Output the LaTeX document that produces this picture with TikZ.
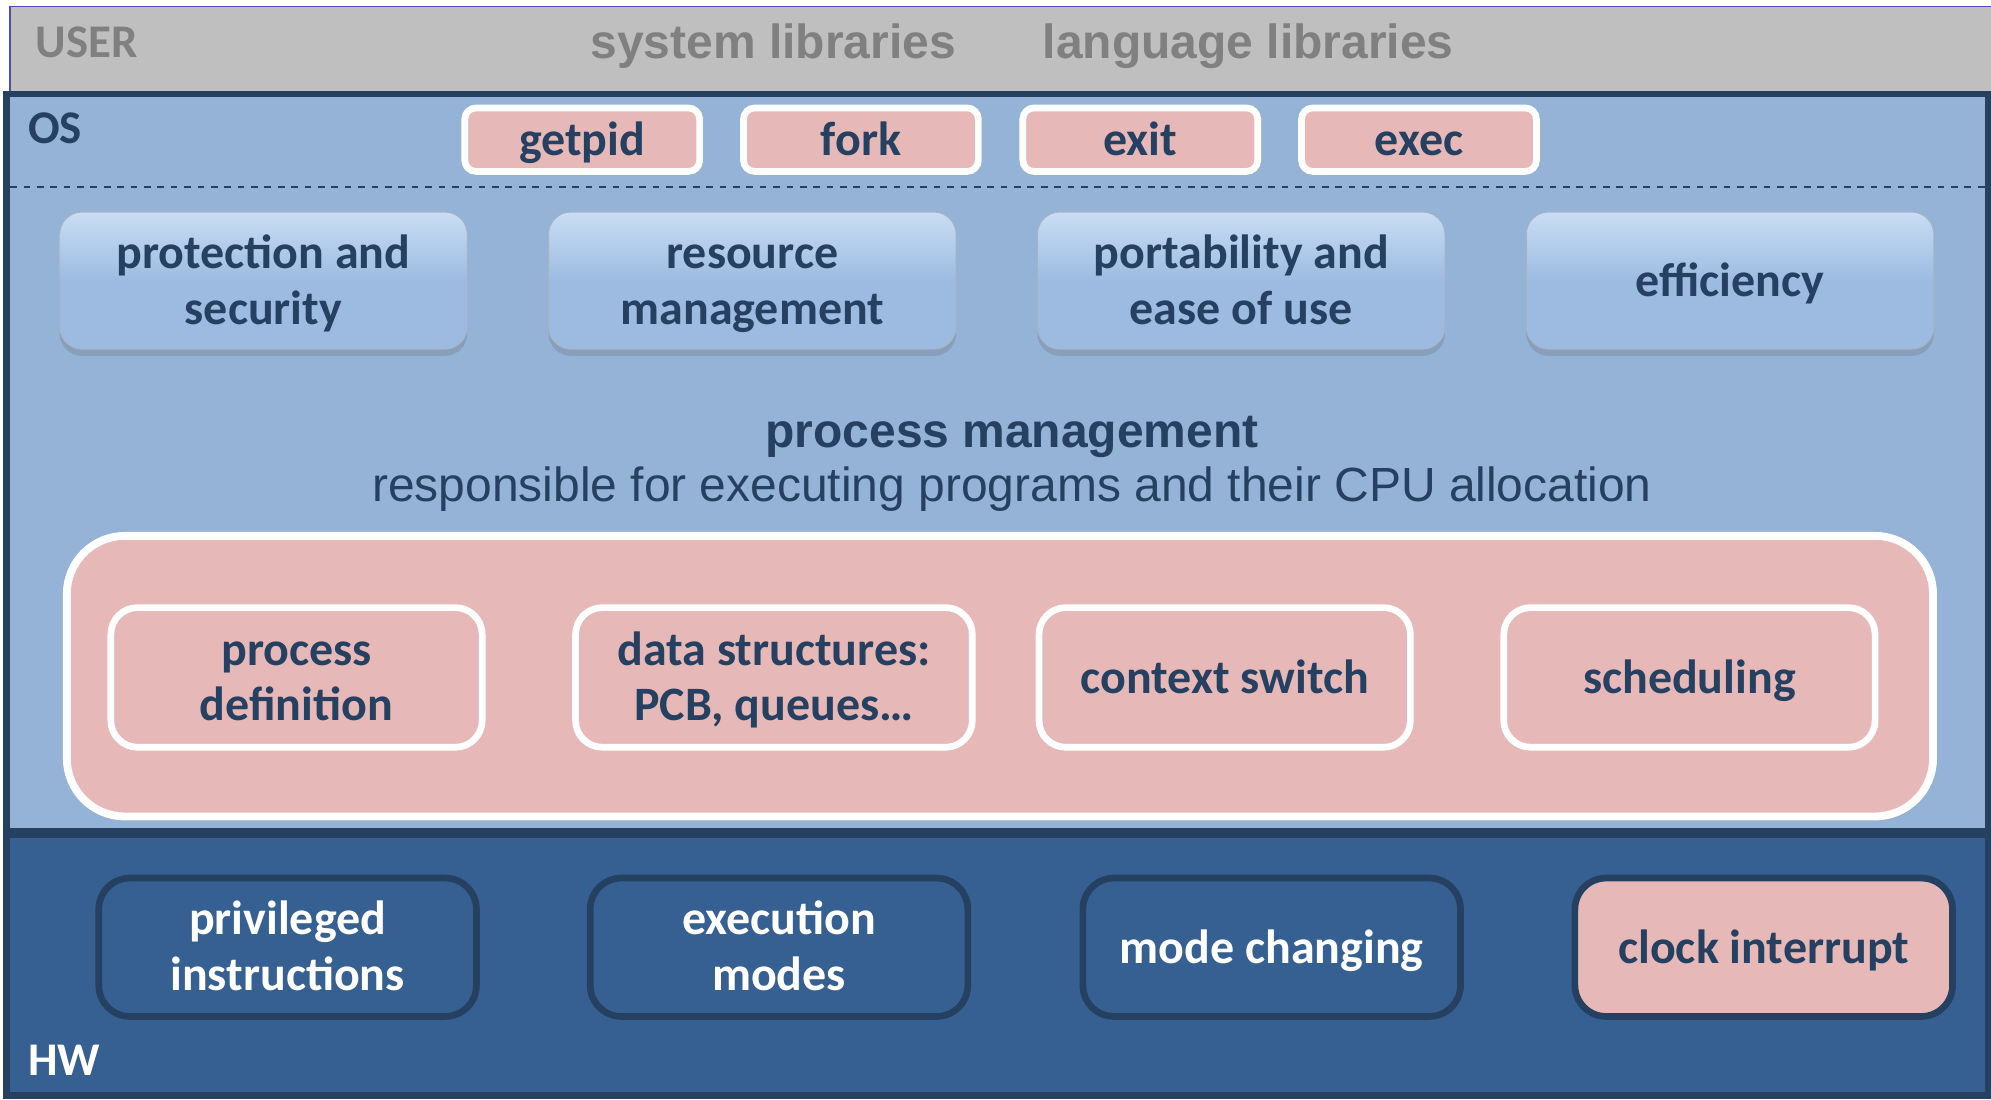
\documentclass[tikz,border=0pt]{standalone}
\usepackage{fontspec}
\setmainfont{Carlito}
\newfontfamily\arialfont{Liberation Sans}
\usepackage{tikz}
\usetikzlibrary{shapes,shadows,backgrounds}

\definecolor{usergray}{HTML}{BFBFBF}
\definecolor{usertext}{HTML}{808080}
\definecolor{osblue}{HTML}{95B3D7}
\definecolor{navy}{HTML}{254061}
\definecolor{hwblue}{HTML}{366092}
\definecolor{pinkfill}{HTML}{E6B9B8}
\definecolor{boxblue}{HTML}{9DBBE1}
\definecolor{boxtop}{HTML}{C9DDF4}

\begin{document}
\begin{tikzpicture}
[x=0.02cm,y=-0.02cm]
\tikzset{
	layer/.style = {draw = navy, line width = 3pt},
	oneline/.style = {text height = 18pt, text depth = 3.5pt},
	twoline/.style = {text height = 44pt, text depth = 5pt},
	syscall/.style = {rectangle, rounded corners = 5pt, draw = white, line width = 3pt, fill = pinkfill,
		minimum width = 3.7cm, minimum height = 1.0cm, oneline,
		text = navy, font = \bfseries\fontsize{21.5}{25}\selectfont},
	goal/.style = {rectangle, rounded corners = 10pt, draw = navy!40, line width = 0.4pt,
		top color = boxtop, bottom color = boxblue, middle color = boxblue, shading angle = 0,
		drop shadow = {shadow xshift = 0pt, shadow yshift = -3pt, fill = navy!60, opacity = 0.5},
		minimum width = 6.42cm, minimum height = 2.16cm, align = center, text = navy,
		font = \bfseries\fontsize{21.5}{25}\selectfont},
	procpart/.style = {rectangle, rounded corners = 12pt, draw = white, line width = 3pt, fill = pinkfill,
		minimum height = 2.2cm, align = center, text = navy, font = \bfseries\fontsize{21.5}{25}\selectfont},
	hwpart/.style = {rectangle, rounded corners = 14pt, draw = navy, line width = 3pt, fill = hwblue,
		minimum width = 5.95cm, minimum height = 2.18cm, align = center, text = white,
		font = \bfseries\fontsize{21.5}{25}\selectfont},
	tag/.style = {anchor = west, font = \bfseries\fontsize{21}{24}\selectfont}
}
\useasboundingbox (0,0) rectangle (1568,866);

\fill[usergray] (8,5) rectangle (1568,72);
\draw[blue!40!gray, line width = 0.6pt] (8,72) -- (8,5) -- (1568,5);
\node (user) [tag, text = usertext] at (22,33) {USER};
\node (syslib) [text = usertext, font = \arialfont\bfseries\fontsize{21.5}{24}\selectfont] at (609,36) {system libraries};
\node (langlib) [text = usertext, font = \arialfont\bfseries\fontsize{21.5}{24}\selectfont] at (983,36) {language libraries};

\filldraw[layer, fill = osblue] (5,74) rectangle (1566,655);
\node (os) [tag, text = navy] at (16,101) {OS};
\draw[navy, dashed, line width = 0.8pt] (8,147) -- (1564,147);

\node (getpid) [syscall] at (458.5,110) {getpid};
\node (fork) [syscall] at (678,110) {fork};
\node (exit) [syscall] at (898,110) {exit};
\node (exec) [syscall] at (1117.5,110) {exec};

\node (protection) [goal, twoline] at (207.5,221) {protection and\\security};
\node (resource) [goal, twoline] at (592.5,221) {resource\\management};
\node (portability) [goal, twoline] at (977.5,221) {portability and\\ease of use};
\node (efficiency) [goal, oneline] at (1362.5,221) {efficiency};

\node (pmtitle) [text = navy, font = \arialfont\bfseries\fontsize{21.5}{25}\selectfont] at (797,344) {process management};
\node (pmsub) [text = navy, font = \arialfont\fontsize{21.5}{25}\selectfont] at (797,385) {responsible for executing programs and their CPU allocation};

\node (procmgmt) [rectangle, rounded corners = 26pt, draw = white, line width = 3.5pt, fill = pinkfill,
	drop shadow = {shadow xshift = 1pt, shadow yshift = -2pt, fill = navy!50, opacity = 0.4},
	minimum width = 29.4cm, minimum height = 4.42cm] at (787.5,532.5) {};
\node (procdef) [procpart, twoline, minimum width = 5.85cm] at (233.5,533.5) {process\\definition};
\node (datastruct) [procpart, twoline, minimum width = 6.25cm] at (609.5,533.5) {data structures:\\PCB, queues\dots};
\node (ctxswitch) [procpart, minimum width = 5.85cm, oneline] at (964.5,533.5) {context switch};
\node (sched) [procpart, minimum width = 5.85cm, oneline] at (1330.5,533.5) {scheduling};

\filldraw[layer, fill = hwblue] (5,657) rectangle (1566,863);
\node (hw) [tag, text = white] at (16,835) {HW};

\node (privileged) [hwpart, twoline] at (226.5,746) {privileged\\instructions};
\node (modes) [hwpart, twoline] at (613.5,746) {execution\\modes};
\node (modechange) [hwpart, oneline] at (1001.5,746) {mode changing};
\node (clock) [hwpart, oneline, fill = pinkfill, text = navy] at (1389,746) {clock interrupt};

\end{tikzpicture}
\end{document}
